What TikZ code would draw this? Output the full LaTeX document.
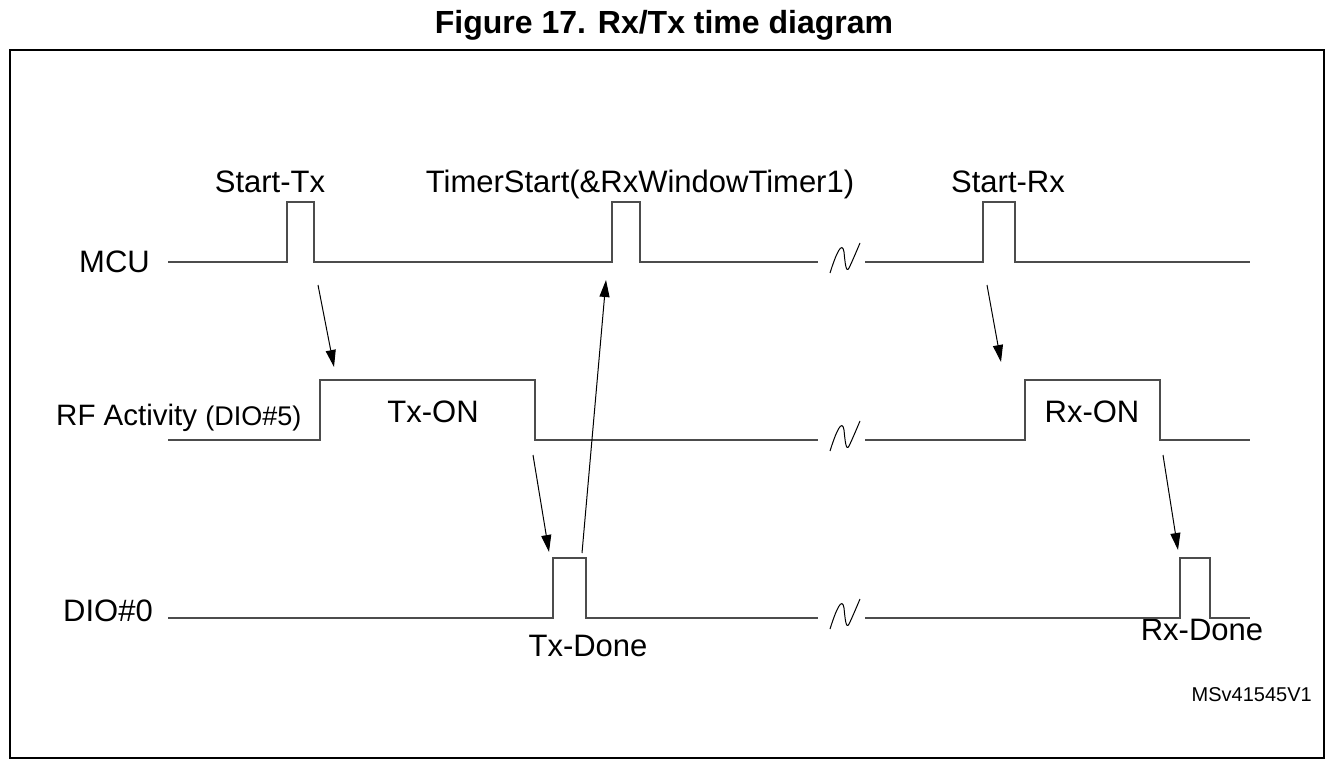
\documentclass[tikz,border=0pt]{standalone}
\usepackage{fontspec}
\setmainfont{Liberation Sans}
\usetikzlibrary{arrows.meta}
\begin{document}
\begin{tikzpicture}[x=1pt,y=-1pt,
  sig/.style={draw=black!70,line width=1.4pt},
  brk/.style={draw=black,line width=1pt},
  evarrow/.style={draw=black,line width=1pt,-{Triangle[length=17pt,width=10pt]}},
  lbl/.style={font=\fontsize{31}{34}\selectfont,inner sep=0pt},
  small/.style={font=\fontsize{20}{22}\selectfont,inner sep=0pt}]
\useasboundingbox (0,0) rectangle (1335,770);
\node[font=\fontsize{32}{34}\selectfont\bfseries,inner sep=0pt,anchor=base] (title) at (664,34) {Figure 17. Rx/Tx time diagram};
\draw[line width=1.6pt] (10,50) rectangle (1324,758);
% labels
\node[lbl,anchor=west] (mcu) at (79,262) {MCU};
\node[lbl,anchor=base west,font=\fontsize{29.5}{32}\selectfont] (rf) at (56,425) {RF Activity \fontsize{27}{30}\selectfont(DIO\#5)};
\node[lbl,anchor=base west] (dio) at (63,621) {DIO\#0};
\node[lbl,anchor=base] (starttx) at (270,193) {Start-Tx};
\node[lbl,anchor=base] (timer) at (640,193) {TimerStart(\&RxWindowTimer1)};
\node[lbl,anchor=base] (startrx) at (1008,193) {Start-Rx};
\node[lbl,anchor=base] (txon) at (433,422) {Tx-ON};
\node[lbl,anchor=base] (rxon) at (1092,422) {Rx-ON};
\node[lbl,anchor=base] (txdone) at (588,656) {Tx-Done};
\node[lbl,anchor=base] (rxdone) at (1202,640) {Rx-Done};
\node[small,anchor=base east] (ms) at (1312,701) {MSv41545V1};
% MCU waveform
\draw[sig] (168,262) -- (287,262) -- (287,202) -- (314,202) -- (314,262) -- (612,262) -- (612,202) -- (640,202) -- (640,262) -- (818,262);
\draw[sig] (865,262) -- (983,262) -- (983,202) -- (1015,202) -- (1015,262) -- (1250,262);
% RF waveform
\draw[sig] (168,440) -- (320,440) -- (320,380) -- (535,380) -- (535,440) -- (818,440);
\draw[sig] (865,440) -- (1025,440) -- (1025,380) -- (1160,380) -- (1160,440) -- (1250,440);
% DIO0 waveform
\draw[sig] (168,618) -- (553,618) -- (553,558) -- (586,558) -- (586,618) -- (818,618);
\draw[sig] (865,618) -- (1180,618) -- (1180,558) -- (1210,558) -- (1210,618) -- (1250,618);
% break symbols
\foreach \yy/\nm in {262/b1,440/b2,618/b3}{
  \draw[brk] (830,\yy+11) .. controls (836,\yy-8) and (842,\yy-22) .. (844,\yy-10)
     .. controls (845,\yy) and (846,\yy+12) .. (849,\yy+6)
     .. controls (852,\yy) and (857,\yy-12) .. (860,\yy-19);
}
% arrows
\coordinate (a1s) at (318,285); \coordinate (a1e) at (334,367);
\coordinate (a2s) at (533,455); \coordinate (a2e) at (549,552);
\coordinate (a3s) at (582,553); \coordinate (a3e) at (606,280);
\coordinate (a4s) at (987,285); \coordinate (a4e) at (1001,362);
\coordinate (a5s) at (1163,455); \coordinate (a5e) at (1178,550);
\draw[evarrow] (a1s) -- (a1e);
\draw[evarrow] (a2s) -- (a2e);
\draw[evarrow] (a3s) -- (a3e);
\draw[evarrow] (a4s) -- (a4e);
\draw[evarrow] (a5s) -- (a5e);
\end{tikzpicture}
\end{document}
